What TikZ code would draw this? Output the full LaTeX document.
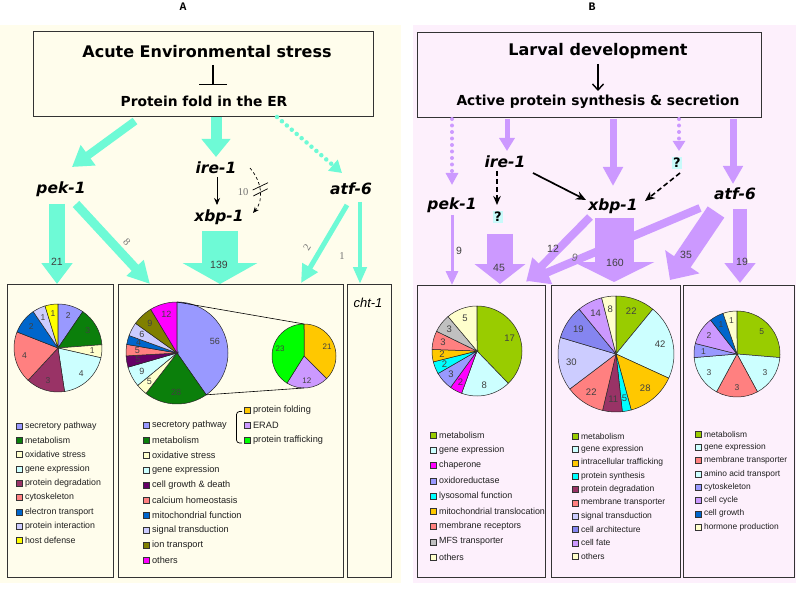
\documentclass[tikz,border=0pt]{standalone}
\usepackage{fontspec}
\setmainfont{Liberation Sans}
\newfontfamily\dvs{DejaVu Sans}
\newfontfamily\lmono{Liberation Mono}
\newfontfamily\lserif{Liberation Serif}
\usetikzlibrary{arrows.meta,calc}
\definecolor{bgA}{RGB}{255,253,236}
\definecolor{bgB}{RGB}{253,240,252}
\definecolor{cyA}{RGB}{110,250,214}
\definecolor{viB}{RGB}{204,153,255}
\definecolor{qbg}{RGB}{200,250,250}
\definecolor{c1}{HTML}{9999FF}
\definecolor{c1b}{HTML}{8585F0}
\definecolor{c2}{HTML}{0B7F0B}
\definecolor{c3}{HTML}{FFFFCC}
\definecolor{c4}{HTML}{CCFFFF}
\definecolor{c5}{HTML}{993366}
\definecolor{c6}{HTML}{FF8080}
\definecolor{c7}{HTML}{0066CC}
\definecolor{c8}{HTML}{CCCCFF}
\definecolor{c9}{HTML}{FFFF00}
\definecolor{c10}{HTML}{660066}
\definecolor{c11}{HTML}{808000}
\definecolor{c12}{HTML}{FF00FF}
\definecolor{c13}{HTML}{FFC800}
\definecolor{c14}{HTML}{CC99FF}
\definecolor{c15}{HTML}{00FF00}
\definecolor{c16}{HTML}{99CC00}
\definecolor{c17}{HTML}{00FFFF}
\definecolor{c18}{HTML}{C0C0C0}
% pie: prefix, cx, cy, r, total, list value/colour, label size
\newcommand\mypie[7]{%
  \foreach \pv/\pc [count=\pn, evaluate=\pv as \pe using {\ps+\pv/#5*360}, remember=\pe as \ps (initially -90)] in {#6}{%
    \filldraw[fill=\pc, draw=black!85, line width=0.5pt] (#2,#3) -- ++(\ps:#4) arc[start angle=\ps, end angle=\pe, radius=#4] -- cycle;
    \node[pielbl, font=\fontsize{#7}{#7}\selectfont] (#1\pn) at ($(#2,#3)+({(\ps+\pe)/2}:{0.78*#4})$) {\pv};
  }}
% legend: prefix, x, y0, dy, font size, list colour/text
\newcommand\mylegend[6]{%
  \foreach \lc/\lt [count=\li] in {#6}{%
    \node[legsq, fill=\lc] (#1s\li) at (#2, {#3+(\li-1)*#4}) {};
    \node[anchor=west, inner sep=0pt, text=black!88, font=\fontsize{#5}{#5}\selectfont] (#1t\li) at ($(#1s\li.east)+(2.2,0)$) {\lt};
  }}
\begin{document}
\begin{tikzpicture}[x=1pt,y=-1pt,
  gene/.style={font=\dvs\bfseries\itshape\fontsize{15.5}{18}\selectfont, inner sep=0pt},
  headone/.style={font=\dvs\bfseries\fontsize{16}{19}\selectfont, inner sep=0pt},
  headtwo/.style={font=\dvs\bfseries\fontsize{13.8}{16}\selectfont, inner sep=0pt},
  boxA/.style={draw=black!80, fill=bgA, line width=0.8pt, inner sep=0pt},
  boxB/.style={draw=black!80, fill=bgB, line width=0.8pt, inner sep=0pt},
  legsq/.style={draw=black!80, line width=0.4pt, minimum size=6pt, inner sep=0pt},
  pielbl/.style={inner sep=0pt, text=black!75},
  num/.style={font=\fontsize{10.5}{12}\selectfont, text=black!75, inner sep=0pt},
  snum/.style={font=\lserif\fontsize{10.5}{12}\selectfont, text=black!55, inner sep=0pt},
  fat/.style n args={4}{draw=#1, line width=#2pt, arrows={-Triangle[width=#3pt,length=#4pt]}},
  dotarr/.style n args={4}{draw=#1, line width=#2pt, line cap=round, dash pattern=on 0pt off 6.5pt, arrows={-Triangle[width=#3pt,length=#4pt]}},
  quest/.style={font=\dvs\bfseries\fontsize{13}{15}\selectfont, fill=qbg, inner sep=1pt},
  ttl/.style={font=\lmono\bfseries\fontsize{11.5}{12}\selectfont, inner sep=0pt}
]
\useasboundingbox (0,0) rectangle (796,591);
\fill[white] (0,0) rectangle (796,591);
\fill[bgA] (0,25) rectangle (401,583);
\fill[bgB] (413,25) rectangle (796,583);
\node[ttl] (titleA) at (183,7) {A};
\node[ttl] (titleB) at (592,7) {B};

% ================= Panel A =================
\node[boxA, minimum width=340pt, minimum height=85pt] (topA) at (203,73.5) {};
\node[headone] (acute) at (207,52) {Acute Environmental stress};
\node[headtwo] (fold) at (204,101) {Protein fold in the ER};
\coordinate (inhS) at (213,65);
\coordinate (inhE) at (213,85);
\draw[line width=1.3pt, arrows={-Bar[width=28pt]}] (inhS) -- (inhE);

\node[gene] (pekA) at (61,189) {pek-1};
\node[gene] (ireA) at (216,168) {ire-1};
\node[gene] (xbpA) at (219,217) {xbp-1};
\node[gene] (atfA) at (351,189) {atf-6};

\node[boxA, minimum width=106pt, minimum height=293pt] (boxAL) at (60,430.5) {};
\node[boxA, minimum width=225pt, minimum height=293pt] (boxAM) at (230.5,430.5) {};
\node[boxA, minimum width=44pt, minimum height=293pt] (boxAR) at (369,430.5) {};
\node[font=\itshape\fontsize{13}{15}\selectfont, inner sep=0pt] (cht) at (368,303) {cht-1};

\coordinate (a1s) at (135,121); \coordinate (a1e) at (72,167);
\coordinate (a2s) at (216,117); \coordinate (a2e) at (216,157);
\coordinate (a3s) at (277,117); \coordinate (a3e) at (342,173);
\draw[fat={cyA}{8}{24}{20}] (a1s) -- (a1e);
\draw[fat={cyA}{11}{28}{18}] (a2s) -- (a2e);
\draw[dotarr={cyA}{4.5}{14}{12}] (a3s) -- (a3e);

\coordinate (a4s) at (57,204); \coordinate (a4e) at (57,284);
\coordinate (a5s) at (76,204); \coordinate (a5e) at (150,284);
\coordinate (a6s) at (220,231); \coordinate (a6e) at (220,284);
\coordinate (a7s) at (347,205); \coordinate (a7e) at (301,283);
\coordinate (a8s) at (360,202); \coordinate (a8e) at (360,284);
\draw[fat={cyA}{16}{30}{21}] (a4s) -- (a4e);
\draw[fat={cyA}{9}{22}{22}] (a5s) -- (a5e);
\draw[fat={cyA}{36}{74}{21}] (a6s) -- (a6e);
\draw[fat={cyA}{5}{17}{18}] (a7s) -- (a7e);
\draw[fat={cyA}{4.5}{13}{17}] (a8s) -- (a8e);

\coordinate (ixS) at (217,177); \coordinate (ixE) at (217,205);
\draw[line width=0.9pt, arrows={-Stealth[length=7pt,width=6pt]}] (ixS) -- (ixE);
\coordinate (dcS) at (250,168); \coordinate (dcE) at (253,213);
\draw[line width=0.7pt, dash pattern=on 3pt off 2.5pt, arrows={-Stealth[length=6pt,width=5pt]}] (dcS) .. controls (262,182) and (264,200) .. (dcE);
\coordinate (st1a) at (252.7,190); \coordinate (st1b) at (268,182.7);
\coordinate (st2a) at (253.3,196); \coordinate (st2b) at (267.7,188.7);
\draw[line width=0.7pt] (st1a) -- (st1b);
\draw[line width=0.7pt] (st2a) -- (st2b);
\node[snum] (n10) at (243,192) {10};

\node[num] (n21) at (57,262) {21};
\node[snum, rotate=-47] (n8) at (127,242) {8};
\node[num] (n139) at (219,265) {139};
\node[snum, rotate=59] (n2) at (307,247) {2};
\node[snum] (n1) at (342,256) {1};

% pies A
\mypie{pAL}{58}{348}{44}{21}{2/c1,3/c2,1/c3,4/c4,3/c5,4/c6,2/c7,1/c8,1/c9}{8.5}
\mypie{pAM}{177}{353}{51}{139}{56/c1,28/c2,5/c3,9/c4,5/c10,5/c6,4/c7,6/c8,9/c11,12/c12}{9}
\mypie{pAS}{304}{356}{32}{56}{21/c13,12/c14,23/c15}{8}
\coordinate (exA1) at (177,302); \coordinate (exA2) at (304,324);
\coordinate (exB1) at ($(177,353)+(55.04:51)$); \coordinate (exB2) at (304,388);
\draw[line width=0.6pt] (exA1) -- (exA2);
\draw[line width=0.6pt] (exB1) -- (exB2);

\mylegend{lAL}{19.5}{426}{14.3}{8.8}{c1/secretory pathway,c2/metabolism,c3/oxidative stress,c4/gene expression,c5/protein degradation,c6/cytoskeleton,c7/electron transport,c8/protein interaction,c9/host defense}
\mylegend{lAM}{146.5}{425}{15}{9.2}{c1/secretory pathway,c2/metabolism,c3/oxidative stress,c4/gene expression,c10/cell growth \& death,c6/calcium homeostasis,c7/mitochondrial function,c8/signal transduction,c11/ion transport,c12/others}
\mylegend{lAS}{247.5}{410}{15.2}{9.2}{c13/protein folding,c14/ERAD,c15/protein trafficking}
\coordinate (brT) at (242,411.5); \coordinate (brB) at (242,443);
\draw[line width=0.7pt, rounded corners=3pt] (brT) -- (236.5,411.5) -- (236.5,443) -- (brB);

% ================= Panel B =================
\node[boxB, minimum width=344pt, minimum height=85pt] (topB) at (589,74.5) {};
\node[headone] (larval) at (598,51) {Larval development};
\node[headtwo] (active) at (598,102) {Active protein synthesis \& secretion};
\coordinate (ldS) at (598,64); \coordinate (ldE) at (598,91);
\draw[line width=1.4pt, arrows={-Straight Barb[length=6pt,width=11pt]}] (ldS) -- (ldE);

\node[gene] (pekB) at (452,205) {pek-1};
\node[gene] (ireB) at (505,162) {ire-1};
\node[gene] (xbpB) at (613,206) {xbp-1};
\node[gene] (atfB) at (735,194) {atf-6};
\node[quest] (q1B) at (677,163) {?};
\node[quest] (q2B) at (498,217) {?};

\node[boxB, minimum width=128pt, minimum height=292pt] (boxBL) at (481,431) {};
\node[boxB, minimum width=129pt, minimum height=292pt] (boxBM) at (615.5,431) {};
\node[boxB, minimum width=111pt, minimum height=292pt] (boxBR) at (738.5,431) {};

\coordinate (b1s) at (452,119); \coordinate (b1e) at (452,185);
\coordinate (b2s) at (507,119); \coordinate (b2e) at (507,151);
\coordinate (b3s) at (613,119); \coordinate (b3e) at (613,186);
\coordinate (b4s) at (679,119); \coordinate (b4e) at (679,151);
\coordinate (b5s) at (733,119); \coordinate (b5e) at (733,184);
\draw[dotarr={viB}{4}{12}{12}] (b1s) -- (b1e);
\draw[fat={viB}{5}{15}{13}] (b2s) -- (b2e);
\draw[fat={viB}{7}{19}{19}] (b3s) -- (b3e);
\draw[dotarr={viB}{4}{12}{10}] (b4s) -- (b4e);
\draw[fat={viB}{7}{19}{18}] (b5s) -- (b5e);

\coordinate (b6s) at (452,215); \coordinate (b6e) at (452,285);
\coordinate (b7s) at (500,234); \coordinate (b7e) at (500,284);
\coordinate (b8s) at (590,217); \coordinate (b8e) at (526,282);
\coordinate (b10s) at (700,208); \coordinate (b10e) at (527,281);
\coordinate (b9s) at (614,218); \coordinate (b9e) at (614,282);
\coordinate (b11s) at (716,212); \coordinate (b11e) at (670,280);
\coordinate (b12s) at (740,209); \coordinate (b12e) at (740,283);
\draw[fat={viB}{3}{12}{14}] (b6s) -- (b6e);
\draw[fat={viB}{26}{50}{20}] (b7s) -- (b7e);
\draw[fat={viB}{8}{24}{22}] (b8s) -- (b8e);
\draw[fat={viB}{8}{24}{22}] (b10s) -- (b10e);
\draw[fat={viB}{39}{80}{20}] (b9s) -- (b9e);
\draw[fat={viB}{20}{40}{22}] (b11s) -- (b11e);
\draw[fat={viB}{14}{30}{20}] (b12s) -- (b12e);

\coordinate (ixBs) at (533,173); \coordinate (ixBe) at (586,200);
\draw[line width=1.7pt, arrows={-Stealth[length=10pt,width=8.5pt]}] (ixBs) -- (ixBe);
\coordinate (qxBs) at (680,173); \coordinate (qxBe) at (645,201);
\draw[line width=1.6pt, dash pattern=on 5pt off 3pt, arrows={-Stealth[length=10pt,width=8.5pt]}] (qxBs) -- (qxBe);
\coordinate (iqBs) at (497,171); \coordinate (iqBe) at (497,205);
\draw[line width=1.6pt, dash pattern=on 5pt off 3pt, arrows={-Stealth[length=9pt,width=7.5pt]}] (iqBs) -- (iqBe);

\node[num] (m9a) at (459,251) {9};
\node[num] (m45) at (499,268) {45};
\node[num] (m12) at (553,249) {12};
\node[num] (m160) at (615,263) {160};
\node[num, text=black!55, rotate=-15] (m9b) at (575,258) {9};
\node[num] (m35) at (686,255) {35};
\node[num] (m19) at (742,262) {19};

% pies B
\mypie{pBL}{477}{351}{45}{45}{17/c16,8/c4,2/c12,3/c1,2/c17,2/c13,3/c6,3/c18,5/c3}{9.5}
\mypie{pBM}{616}{354}{58}{201}{22/c16,42/c4,28/c13,5/c17,11/c5,22/c6,30/c8,19/c1b,14/c14,8/c3}{9.5}
\mypie{pBR}{737}{354}{43}{19}{5/c16,3/c4,3/c6,3/c4,1/c1,2/c14,1/c7,1/c3}{8.5}

\mylegend{lBL}{433.5}{435}{15.25}{8.9}{c16/metabolism,c4/gene expression,c12/chaperone,c1/oxidoreductase,c17/lysosomal function,c13/mitochondrial translocation,c6/membrane receptors,c18/MFS transporter,c3/others}
\mylegend{lBM}{575.5}{436}{13.35}{8.5}{c16/metabolism,c4/gene expression,c13/intracellular trafficking,c17/protein synthesis,c5/protein degradation,c6/membrane transporter,c8/signal transduction,c1b/cell architecture,c14/cell fate,c3/others}
\mylegend{lBR}{698.5}{434}{13.3}{8.4}{c16/metabolism,c4/gene expression,c6/membrane transporter,c4/amino acid transport,c1/cytoskeleton,c14/cell cycle,c7/cell growth,c3/hormone production}
\end{tikzpicture}
\end{document}
